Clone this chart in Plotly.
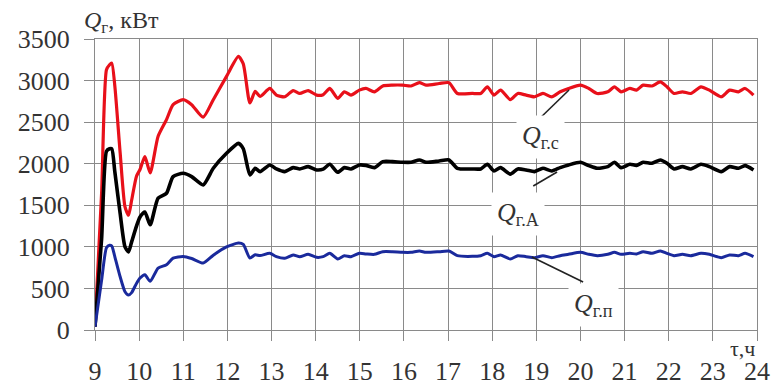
import plotly.graph_objects as go

# ---- data ----
t_hours = [9.0, 9.15, 9.26, 9.33, 9.38, 9.45, 9.57, 9.68, 9.76, 9.83, 9.94, 10.02, 10.13, 10.25,
           10.43, 10.62, 10.77, 11.0, 11.19, 11.45, 11.68, 11.98, 12.25, 12.36, 12.51, 12.63,
           12.74, 12.96, 13.11, 13.3, 13.49, 13.64, 13.83, 14.02, 14.17, 14.32, 14.5, 14.65,
           14.8, 14.99, 15.14, 15.33, 15.52, 15.74, 15.97, 16.16, 16.35, 16.5, 16.8, 17.02,
           17.21, 17.55, 17.74, 17.89, 18.04, 18.19, 18.41, 18.58, 18.77, 18.96, 19.15, 19.35,
           19.54, 19.73, 20.0, 20.19, 20.38, 20.62, 20.77, 20.92, 21.12, 21.27, 21.42, 21.62,
           21.81, 21.96, 22.12, 22.31, 22.5, 22.73, 22.92, 23.19, 23.38, 23.58, 23.73, 23.92]

q_gc = [40, 1650, 3130, 3190, 3210, 2930, 2130, 1480, 1380, 1560, 1850, 1930, 2085, 1890,
        2330, 2530, 2710, 2770, 2710, 2560, 2770, 3050, 3290, 3200, 2730, 2870,
        2810, 2905, 2825, 2805, 2880, 2845, 2880, 2825, 2830, 2905, 2785, 2865,
        2825, 2885, 2905, 2865, 2935, 2945, 2945, 2935, 2975, 2945, 2965, 2975,
        2845, 2845, 2845, 2925, 2825, 2885, 2770, 2845, 2825, 2805, 2845, 2805,
        2865, 2905, 2945, 2905, 2845, 2865, 2925, 2865, 2905, 2885, 2945, 2935,
        2985, 2925, 2845, 2865, 2845, 2925, 2885, 2805, 2885, 2865, 2905, 2825]

q_ga = [40, 1100, 2150, 2180, 2180, 1900, 1400, 1000, 940, 1060, 1250, 1360, 1420, 1265,
        1585, 1645, 1845, 1885, 1845, 1745, 1945, 2125, 2245, 2180, 1865, 1945,
        1905, 1985, 1937, 1905, 1953, 1937, 1965, 1925, 1935, 1993, 1897, 1953,
        1937, 1985, 1980, 1953, 2025, 2025, 2017, 2017, 2045, 2017, 2033, 2045,
        1945, 1937, 1937, 1993, 1913, 1953, 1875, 1937, 1925, 1905, 1945, 1913,
        1953, 1985, 2017, 1977, 1945, 1965, 2017, 1953, 1993, 1980, 2017, 2005,
        2045, 2005, 1937, 1965, 1937, 1993, 1965, 1905, 1965, 1945, 1977, 1925]

q_gp = [40, 600, 990, 1020, 1010, 880, 640, 460, 420, 450, 560, 625, 665, 585,
        745, 785, 865, 885, 860, 805, 900, 1000, 1045, 1030, 865, 905,
        895, 922, 882, 862, 902, 882, 910, 874, 882, 922, 854, 894,
        882, 922, 915, 910, 942, 942, 934, 934, 950, 934, 942, 950,
        894, 886, 894, 922, 882, 902, 854, 894, 882, 870, 894, 870,
        894, 910, 934, 910, 894, 910, 934, 910, 922, 915, 942, 922,
        950, 922, 894, 910, 894, 922, 910, 870, 902, 894, 922, 882]

x_ticks = list(range(9, 25))
y_ticks = [0, 500, 1000, 1500, 2000, 2500, 3000, 3500]

series_names = ["<i>Q</i><sub>г.с</sub>", "<i>Q</i><sub>г.А</sub>", "<i>Q</i><sub>г.п</sub>"]
series_colors = ["#e8101a", "#000000", "#1a2a9c"]
# label anchor (t, Q) and leader line from (t0, Q0) to (t1, Q1)
label_pos = [(18.54, 2320), (17.97, 1390), (19.72, 300)]
leaders = [((19.11, 2562), (19.74, 2887)),
           ((18.93, 1732), (19.47, 1900)),
           ((18.90, 878), (20.06, 577))]

fig = go.Figure()
for vals, name, col, w in zip([q_gc, q_ga, q_gp], series_names, series_colors, [3.2, 3.6, 3.0]):
    fig.add_trace(go.Scatter(x=t_hours, y=vals, mode="lines", name=name,
                             line=dict(color=col, width=w, shape="spline", smoothing=0.6),
                             showlegend=False, hoverinfo="skip"))

grid = "#8a8a8a"
font_family = "Times New Roman"
fig.update_layout(
    width=774, height=386,
    margin=dict(l=95, r=17, t=39, b=56, autoexpand=False),
    paper_bgcolor="white", plot_bgcolor="white",
    font=dict(family=font_family, color="#333333"),
    xaxis=dict(range=[9, 24], tickvals=x_ticks, ticktext=[str(v) for v in x_ticks],
               showgrid=True, gridcolor=grid, gridwidth=1.2, zeroline=False,
               showline=True, mirror=True, linecolor=grid, linewidth=1.2,
               ticks="outside", ticklen=10, tickcolor=grid, tickwidth=1.2, automargin=False,
               ticklabelstandoff=8, tickfont=dict(size=26, color="#333333", family=font_family)),
    yaxis=dict(range=[0, 3500], tickvals=y_ticks, ticktext=[str(v) for v in y_ticks],
               showgrid=True, gridcolor=grid, gridwidth=1.2, zeroline=False,
               showline=True, mirror=True, linecolor=grid, linewidth=1.2,
               ticks="outside", ticklen=10, tickcolor=grid, tickwidth=1.2, automargin=False,
               ticklabelstandoff=9, tickfont=dict(size=26, color="#333333", family=font_family)),
)

# axis titles
fig.add_annotation(xref="paper", yref="paper", x=-0.02, y=1.06, xanchor="left", yanchor="middle",
                   text="<i>Q</i><sub>г</sub>, кВт", showarrow=False,
                   font=dict(size=24, color="#333333", family=font_family))
fig.add_annotation(xref="paper", yref="paper", x=1.0, y=-0.065, xanchor="right", yanchor="middle",
                   text="τ,ч", showarrow=False,
                   font=dict(size=22, color="#333333", family=font_family))

# series labels with leader lines
for name, (lx, ly), ((x0, y0), (x1, y1)) in zip(series_names, label_pos, leaders):
    fig.add_annotation(x=lx, y=ly, xref="x", yref="y", xanchor="left", yanchor="middle",
                       text=name, showarrow=False, bgcolor="white", borderpad=5,
                       font=dict(size=26, color="#333333", family=font_family))
    fig.add_shape(type="line", xref="x", yref="y", x0=x0, y0=y0, x1=x1, y1=y1,
                  line=dict(color="#222222", width=1.6))

fig.write_html("out.html", config={"displayModeBar": False},
               post_script="document.body.style.margin='0';document.body.style.overflow='hidden';")
